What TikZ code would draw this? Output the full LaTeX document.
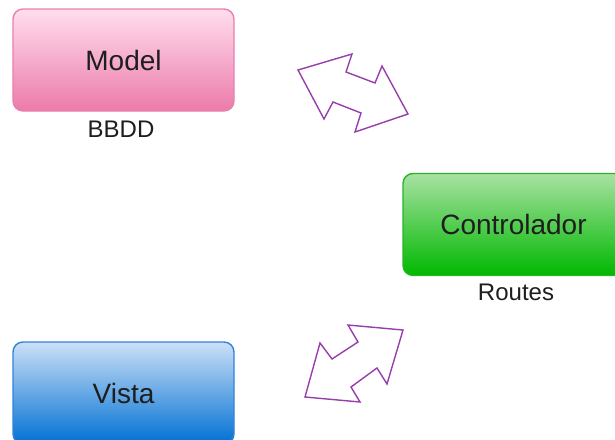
\documentclass[tikz,border=0pt]{standalone}
\usepackage{fontspec}
\setmainfont{Liberation Sans}
\definecolor{modeltop}{RGB}{255,222,238}
\definecolor{modelmid}{RGB}{245,170,205}
\definecolor{modelbot}{RGB}{236,122,170}
\definecolor{modelline}{RGB}{232,128,172}
\definecolor{ctrltop}{RGB}{168,226,162}
\definecolor{ctrlmid}{RGB}{60,196,56}
\definecolor{ctrlbot}{RGB}{0,184,0}
\definecolor{ctrlline}{RGB}{40,180,40}
\definecolor{vistatop}{RGB}{204,224,246}
\definecolor{vistamid}{RGB}{100,164,228}
\definecolor{vistabot}{RGB}{0,112,212}
\definecolor{vistaline}{RGB}{50,130,216}
\definecolor{arrowline}{RGB}{152,62,172}
\definecolor{txt}{RGB}{30,30,30}
\tikzset{
  box/.style={rounded corners=10pt, line width=1.4pt, minimum width=221pt,
    minimum height=102pt, inner sep=0pt, text=txt, font=\fontsize{28}{32}\selectfont},
  caption/.style={text=txt, inner sep=0pt, font=\fontsize{24}{28}\selectfont},
  dblarrow/.style={draw=arrowline, line width=1.4pt, line join=miter, fill=white}
}
\begin{document}
\begin{tikzpicture}[x=1pt,y=-1pt]
  \useasboundingbox (0,0) rectangle (615,439);
  \clip (0,0) rectangle (615,439);

  % the three MVC parts
  \node[box, draw=modelline, top color=modeltop, middle color=modelmid, bottom color=modelbot] (model) at (123.5,60) {Model};
  \node[box, draw=ctrlline, top color=ctrltop, middle color=ctrlmid, bottom color=ctrlbot] (ctrl) at (513.5,224.5) {Controlador};
  \node[box, draw=vistaline, top color=vistatop, middle color=vistamid, bottom color=vistabot] (vista) at (123.5,393) {Vista};

  % captions under the boxes
  \node[caption] (bbdd) at (121,129.5) {BBDD};
  \node[caption] (routes) at (516,292.5) {Routes};

  % two-headed arrows between the parts
  \draw[dblarrow] (298,70) -- (352,54) -- (346,72) -- (375,83) -- (382,66)
    -- (408,114) -- (355,132) -- (361,113) -- (333,102) -- (324,119) -- cycle;
  \draw[dblarrow] (348,325) -- (403,330) -- (387,384) -- (377,368) -- (351,387)
    -- (360,402) -- (305,397) -- (320,343) -- (332,359) -- (358,342) -- cycle;
\end{tikzpicture}
\end{document}
